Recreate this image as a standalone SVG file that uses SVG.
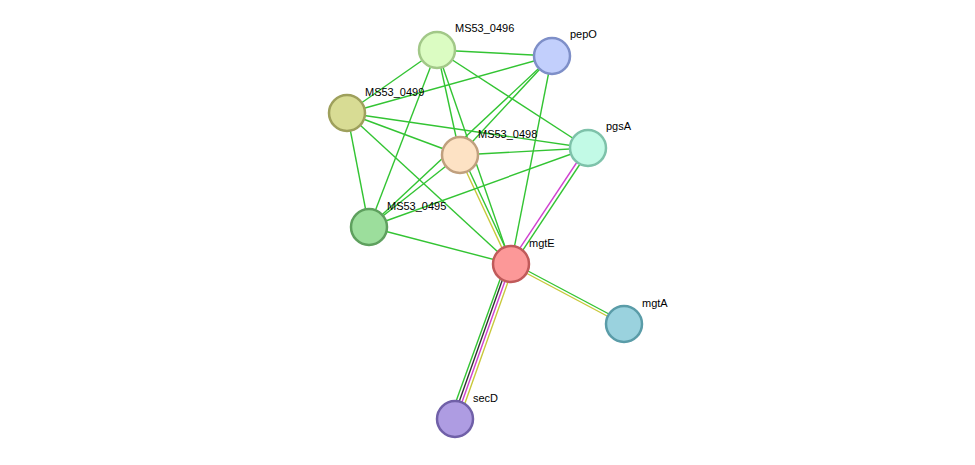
<svg xmlns="http://www.w3.org/2000/svg" width="975" height="465" viewBox="0 0 975 465">
<style>
.e{stroke:#33c433;stroke-width:1.4;fill:none}
.n circle{stroke-width:2.5}
text{font-family:"Liberation Sans",Arial,sans-serif;font-size:11px;fill:#000}
</style>
<rect width="975" height="465" fill="#fff"/>
<g id="edges">
<line class="e" x1="437" y1="50" x2="552" y2="56"/>
<line class="e" x1="437" y1="50" x2="588" y2="148"/>
<line class="e" x1="437" y1="50" x2="347" y2="113"/>
<line class="e" x1="437" y1="50" x2="460" y2="155"/>
<line class="e" x1="437" y1="50" x2="369" y2="227"/>
<line class="e" x1="437" y1="50" x2="511" y2="264"/>
<line class="e" x1="552" y1="56" x2="347" y2="113"/>
<line class="e" x1="552" y1="56" x2="460" y2="155"/>
<line class="e" x1="552" y1="56" x2="369" y2="227"/>
<line class="e" x1="552" y1="56" x2="511" y2="264"/>
<line class="e" x1="347" y1="113" x2="460" y2="155"/>
<line class="e" x1="347" y1="113" x2="588" y2="148"/>
<line class="e" x1="347" y1="113" x2="369" y2="227"/>
<line class="e" x1="347" y1="113" x2="511" y2="264"/>
<line class="e" x1="460" y1="155" x2="588" y2="148"/>
<line class="e" x1="460" y1="155" x2="369" y2="227"/>
<line class="e" x1="462" y1="155" x2="513" y2="264"/>
<line x1="459" y1="156" x2="510" y2="265" stroke="#c8c83a" stroke-width="1.4"/>
<line class="e" x1="588" y1="148" x2="369" y2="227"/>
<line class="e" x1="590" y1="149" x2="513" y2="265"/>
<line x1="587" y1="147" x2="510" y2="263" stroke="#d040d0" stroke-width="1.4"/>
<line class="e" x1="369" y1="227" x2="511" y2="264"/>
<line class="e" x1="511" y1="262" x2="624" y2="322"/>
<line x1="511" y1="265" x2="624" y2="325" stroke="#c8c83a" stroke-width="1.4"/>
<line class="e" x1="506" y1="263" x2="450" y2="418"/>
<line x1="508" y1="264" x2="453" y2="419" stroke="#333" stroke-width="1.4"/>
<line x1="511" y1="264" x2="456" y2="419" stroke="#d040d0" stroke-width="1.4"/>
<line x1="514" y1="265" x2="459" y2="420" stroke="#c8c83a" stroke-width="1.4"/>
</g>
<g id="MS53_0496" class="n"><circle cx="437" cy="50" r="18" fill="#dbfcc2" stroke="#a2c888"/><text x="455" y="32">MS53_0496</text></g>
<g id="pepO" class="n"><circle cx="552" cy="56" r="18" fill="#c2cffc" stroke="#7e8fc8"/><text x="570" y="38">pepO</text></g>
<g id="MS53_0499" class="n"><circle cx="347" cy="113" r="18" fill="#d8dc94" stroke="#9ea05c"/><text x="365" y="96">MS53_0499</text></g>
<g id="MS53_0498" class="n"><circle cx="460" cy="155" r="18" fill="#fde2c4" stroke="#c0a07e"/><text x="478" y="138">MS53_0498</text></g>
<g id="pgsA" class="n"><circle cx="588" cy="148" r="18" fill="#c2fae6" stroke="#7ec2aa"/><text x="606" y="130">pgsA</text></g>
<g id="MS53_0495" class="n"><circle cx="369" cy="227" r="18" fill="#9cde9c" stroke="#5ea05e"/><text x="387" y="210">MS53_0495</text></g>
<g id="mgtE" class="n"><circle cx="511" cy="264" r="18" fill="#fc9898" stroke="#c05a5a"/><text x="529" y="247">mgtE</text></g>
<g id="mgtA" class="n"><circle cx="624" cy="324" r="18" fill="#9ad2de" stroke="#5a9ca8"/><text x="642" y="307">mgtA</text></g>
<g id="secD" class="n"><circle cx="455" cy="419" r="18" fill="#ae9ce2" stroke="#7060a8"/><text x="473" y="402">secD</text></g>
</svg>
